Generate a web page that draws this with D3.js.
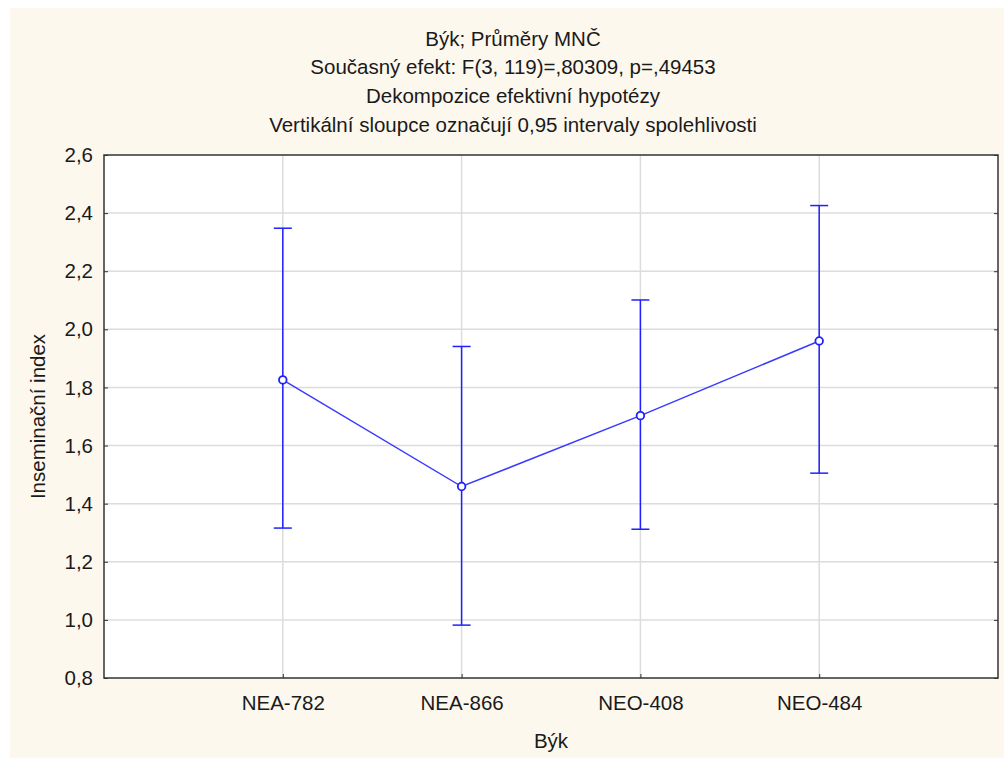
<!DOCTYPE html>
<meta charset="utf-8">
<script src="https://d3js.org/d3.v7.min.js"></script>
<style>
  body { margin: 0; background: #fff; }
  text { font-family: "Liberation Sans", Arial, sans-serif; fill: #1a1a1a; }
</style>
<div id="chart"></div>
<script>
// data
var bulls = ["NEA-782", "NEA-866", "NEO-408", "NEO-484"];
var means = [1.826, 1.459, 1.703, 1.960];
var lower = [1.316, 0.982, 1.312, 1.505];
var upper = [2.348, 1.941, 2.101, 2.426];
var yTicks = [0.8, 1.0, 1.2, 1.4, 1.6, 1.8, 2.0, 2.2, 2.4, 2.6];
var titles = [
  "Býk; Průměry MNČ",
  "Současný efekt: F(3, 119)=,80309, p=,49453",
  "Dekompozice efektivní hypotézy",
  "Vertikální sloupce označují 0,95 intervaly spolehlivosti"
];

var W = 1007, H = 760;
var margin = {top: 155, right: 9, bottom: 82, left: 104};
var width = W - margin.left - margin.right,
    height = H - margin.top - margin.bottom;
var fs = "20.5px";

var svg = d3.select("#chart").append("svg")
  .attr("width", W).attr("height", H);

// cream background panel
svg.append("rect")
  .attr("x", 10).attr("y", 8).attr("width", 994).attr("height", 750)
  .attr("fill", "#fdf8ee");

var g = svg.append("g")
  .attr("transform", "translate(" + margin.left + "," + margin.top + ")");

g.append("rect").attr("width", width).attr("height", height).attr("fill", "#fff");

var x = d3.scalePoint().domain(bulls).range([0, width]).padding(1);
var y = d3.scaleLinear().domain([0.8, 2.6]).range([height, 0]);

var fmt = function (d) { return d3.format(".1f")(d).replace(".", ","); };

// grid
g.append("g").selectAll("line").data(yTicks.slice(1, -1)).enter().append("line")
  .attr("x1", 0).attr("x2", width)
  .attr("y1", function (d) { return y(d); }).attr("y2", function (d) { return y(d); })
  .attr("stroke", "#dcdcdc").attr("stroke-width", 1.5);
g.append("g").selectAll("line").data(bulls).enter().append("line")
  .attr("x1", function (d) { return x(d); }).attr("x2", function (d) { return x(d); })
  .attr("y1", 0).attr("y2", height)
  .attr("stroke", "#dcdcdc").attr("stroke-width", 1.5);

// axes with inward ticks
var yAxis = g.append("g")
  .call(d3.axisLeft(y).tickValues(yTicks).tickFormat(fmt).tickSizeInner(-4).tickSizeOuter(0).tickPadding(11));
yAxis.select(".domain").remove();
yAxis.selectAll("text").style("font-size", fs);
yAxis.selectAll("line").attr("stroke", "#333");

var yAxisR = g.append("g").attr("transform", "translate(" + width + ",0)")
  .call(d3.axisRight(y).tickValues(yTicks).tickFormat("").tickSizeInner(-4).tickSizeOuter(0));
yAxisR.select(".domain").remove();
yAxisR.selectAll("line").attr("stroke", "#333");

var xAxis = g.append("g").attr("transform", "translate(0," + height + ")")
  .call(d3.axisBottom(x).tickSizeInner(-4).tickSizeOuter(0).tickPadding(17));
xAxis.select(".domain").remove();
xAxis.selectAll("text").style("font-size", fs);
xAxis.selectAll("line").attr("stroke", "#333");

// frame
g.append("rect").attr("width", width).attr("height", height)
  .attr("fill", "none").attr("stroke", "#333").attr("stroke-width", 1.5);

// error bars
var blue = "#2020ff";
var bars = g.append("g").selectAll("g").data(bulls).enter().append("g");
bars.append("line")
  .attr("x1", function (d) { return x(d); }).attr("x2", function (d) { return x(d); })
  .attr("y1", function (d, i) { return y(lower[i]); })
  .attr("y2", function (d, i) { return y(upper[i]); })
  .attr("stroke", blue).attr("stroke-width", 1.5);
bars.append("line")
  .attr("x1", function (d) { return x(d) - 9; }).attr("x2", function (d) { return x(d) + 9; })
  .attr("y1", function (d, i) { return y(upper[i]); })
  .attr("y2", function (d, i) { return y(upper[i]); })
  .attr("stroke", blue).attr("stroke-width", 1.5);
bars.append("line")
  .attr("x1", function (d) { return x(d) - 9; }).attr("x2", function (d) { return x(d) + 9; })
  .attr("y1", function (d, i) { return y(lower[i]); })
  .attr("y2", function (d, i) { return y(lower[i]); })
  .attr("stroke", blue).attr("stroke-width", 1.5);

// means line
var line = d3.line()
  .x(function (d, i) { return x(bulls[i]); })
  .y(function (d) { return y(d); });
g.append("path").datum(means).attr("d", line)
  .attr("fill", "none").attr("stroke", "#3a3aff").attr("stroke-width", 1.5);

g.append("g").selectAll("circle").data(means).enter().append("circle")
  .attr("cx", function (d, i) { return x(bulls[i]); })
  .attr("cy", function (d) { return y(d); })
  .attr("r", 3.8)
  .attr("fill", "#fff").attr("stroke", blue).attr("stroke-width", 1.8);

// titles
svg.append("g").selectAll("text").data(titles).enter().append("text")
  .attr("x", 513).attr("y", function (d, i) { return 45.5 + i * 28.8; })
  .attr("text-anchor", "middle").style("font-size", fs)
  .text(function (d) { return d; });

// axis titles
svg.append("text")
  .attr("transform", "translate(45," + (margin.top + height / 2) + ") rotate(-90)")
  .attr("text-anchor", "middle").style("font-size", fs)
  .text("Inseminační index");

svg.append("text")
  .attr("x", margin.left + width / 2).attr("y", 748)
  .attr("text-anchor", "middle").style("font-size", fs)
  .text("Býk");
</script>
